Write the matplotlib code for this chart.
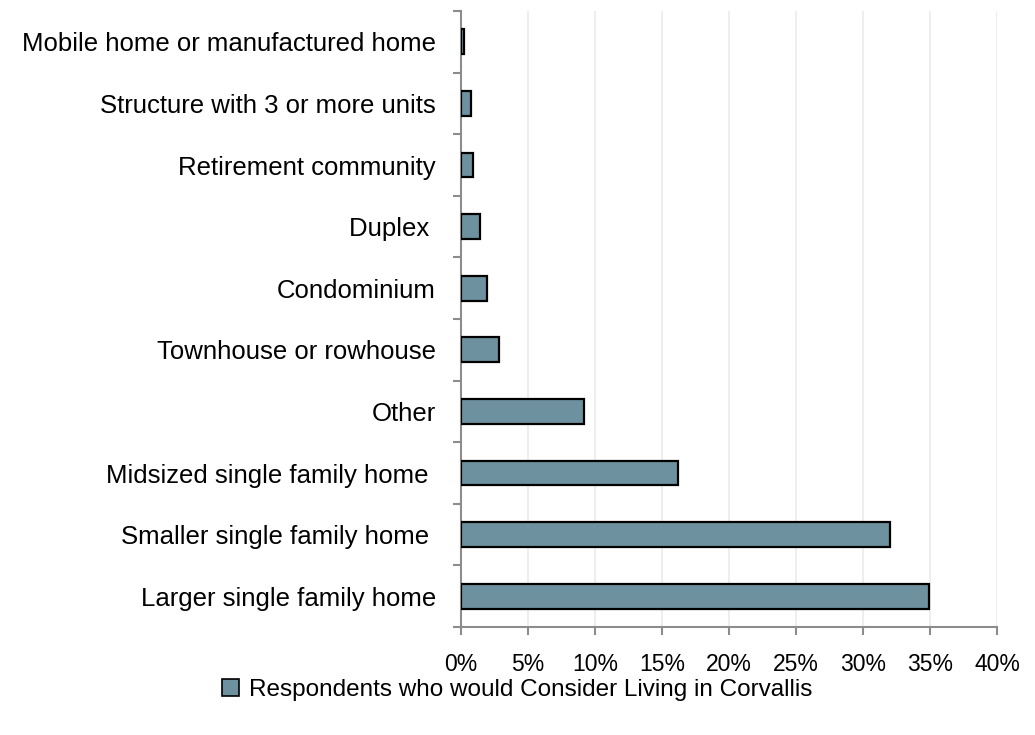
import numpy as np
import matplotlib.pyplot as plt
from matplotlib.ticker import FuncFormatter, FixedLocator
from matplotlib.patches import Patch

plt.rcParams['font.family'] = ['Liberation Sans', 'DejaVu Sans']

categories = [
    "Larger single family home",
    "Smaller single family home ",
    "Midsized single family home ",
    "Other",
    "Townhouse or rowhouse",
    "Condominium",
    "Duplex ",
    "Retirement community",
    "Structure with 3 or more units",
    "Mobile home or manufactured home",
]
values = [34.9, 32.0, 16.2, 9.15, 2.85, 1.97, 1.45, 0.92, 0.77, 0.25]
series_name = "Respondents who would Consider Living in Corvallis"
x_ticks = [0, 5, 10, 15, 20, 25, 30, 35, 40]


def main():
    fig = plt.figure(figsize=(10.35, 7.35), dpi=100)
    ax = fig.add_axes([461 / 1035, 1 - 627 / 735, 536 / 1035, 616 / 735])

    bar_color = '#6e919f'
    y = np.arange(len(categories))
    ax.barh(y, values, height=0.4, color=bar_color, edgecolor='black',
            linewidth=1.6, zorder=3)

    ax.set_xlim(0, 40)
    ax.set_ylim(-0.5, len(categories) - 0.5)
    ax.set_xticks(x_ticks)
    ax.xaxis.set_major_formatter(FuncFormatter(lambda v, p: "{:d}%".format(int(v))))
    ax.grid(axis='x', color='#ebebeb', linewidth=1.2, zorder=0)

    ax.set_yticks(y)
    ax.set_yticklabels(categories)
    ax.yaxis.set_minor_locator(FixedLocator(np.arange(-0.5, len(categories), 1.0)))
    ax.tick_params(axis='y', which='major', length=0, pad=18, labelsize=18.5)
    ax.tick_params(axis='y', which='minor', length=6, width=1.5, color='#8c8c8c')
    ax.tick_params(axis='x', which='major', length=6, width=1.5, color='#8c8c8c',
                   pad=13, labelsize=16.5)

    for s in ['top', 'right']:
        ax.spines[s].set_visible(False)
    for s in ['left', 'bottom']:
        ax.spines[s].set_color('#8c8c8c')
        ax.spines[s].set_linewidth(1.5)

    handle = Patch(facecolor=bar_color, edgecolor='black', linewidth=1.2)
    fig.legend([handle], [series_name], loc='center', bbox_to_anchor=(0.5, 1 - 690 / 735),
               frameon=False, fontsize=17.5, handlelength=0.7, handleheight=0.7,
               handletextpad=0.4)

    fig.savefig('out.png', dpi=100)


if __name__ == '__main__':
    main()
